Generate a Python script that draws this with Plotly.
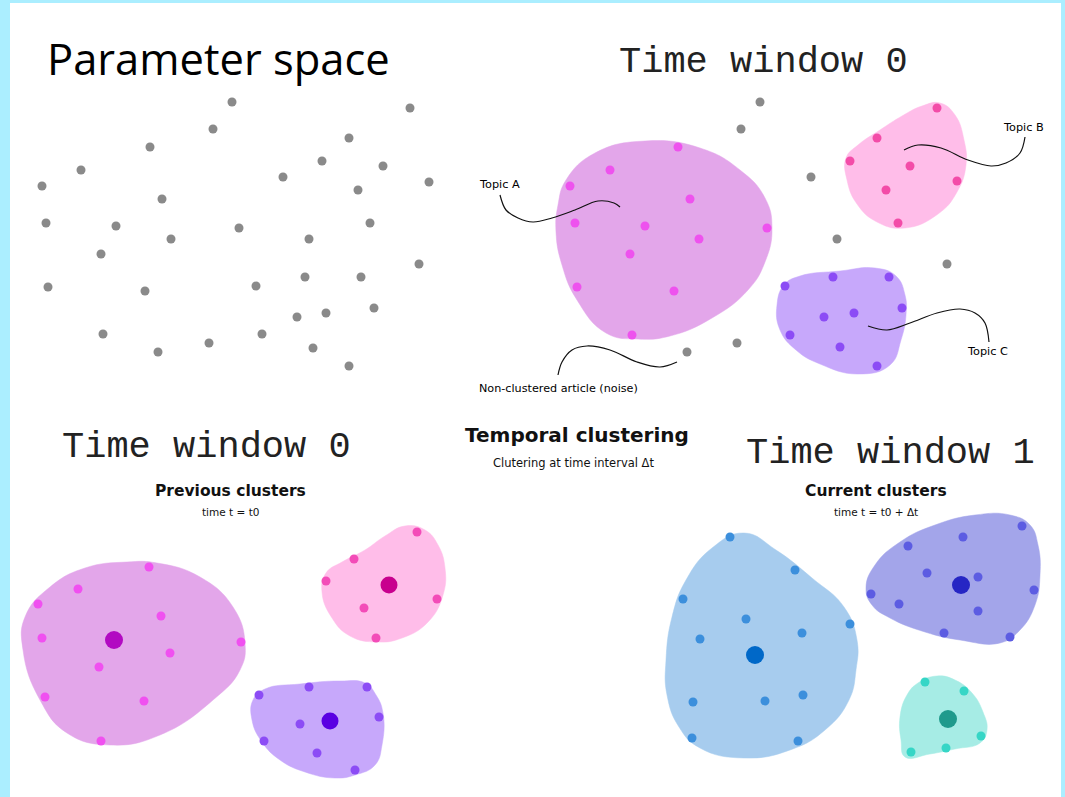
import plotly.graph_objects as go

# ---------------- data (pixel coordinates of the illustration) ----------------
param_x = [232, 410, 213, 349, 150, 322, 383, 81, 283, 42, 429, 358, 162, 46, 116, 239, 370, 171,
           309, 101, 419, 305, 361, 48, 145, 256, 374, 297, 326, 103, 262, 209, 158, 313, 349]
param_y = [102, 108, 129, 138, 147, 161, 166, 170, 177, 186, 182, 190, 199, 223, 226, 228, 223, 239,
           239, 254, 264, 277, 277, 287, 291, 286, 308, 317, 313, 334, 334, 343, 352, 348, 366]

noise_x = [760, 741, 811, 837, 947, 737, 687]
noise_y = [102, 129, 177, 239, 264, 343, 352]

topicA_x = [678, 610, 570, 690, 575, 645, 767, 699, 630, 577, 674, 632]
topicA_y = [147, 170, 186, 199, 223, 226, 228, 239, 254, 287, 291, 335]
topicA_outline_x = [645, 700, 740, 765, 772, 765, 748, 712, 670, 638, 606, 577, 562, 556, 558, 566, 595]
topicA_outline_y = [141, 148, 170, 198, 228, 262, 290, 318, 336, 339, 333, 300, 265, 232, 205, 180, 153]

topicB_x = [937, 877, 850, 910, 957, 886, 898]
topicB_y = [108, 138, 161, 166, 181, 190, 223]
topicB_outline_x = [922, 940, 955, 964, 966, 957, 938, 905, 877, 857, 847, 846, 858, 880, 902]
topicB_outline_y = [106, 103, 115, 140, 165, 192, 214, 228, 222, 204, 180, 158, 145, 130, 116]

topicC_x = [785, 833, 889, 902, 824, 854, 790, 840, 877]
topicC_y = [286, 277, 277, 308, 317, 313, 335, 347, 366]
topicC_outline_x = [840, 875, 896, 905, 906, 901, 890, 858, 820, 796, 780, 777, 784, 800]
topicC_outline_y = [271, 268, 276, 295, 315, 340, 365, 374, 364, 350, 330, 305, 285, 276]

curveA_x = [500, 506, 518, 533, 552, 575, 598, 614, 620]
curveA_y = [195, 210, 218, 222, 218, 210, 201, 203, 207]
curveB_x = [1025, 1020, 1006, 991, 968, 941, 918, 904]
curveB_y = [137, 153, 163, 166, 160, 148, 145, 150]
curveC_x = [989, 985, 975, 960, 937, 910, 887, 868]
curveC_y = [342, 323, 313, 309, 313, 323, 330, 326]
curveN_x = [558, 562, 572, 587, 610, 637, 660, 677]
curveN_y = [375, 362, 350, 346, 350, 362, 367, 362]

prevA_x = [149, 78, 38, 161, 42, 241, 170, 99, 45, 144, 101]
prevA_y = [567, 589, 604, 616, 638, 642, 653, 667, 697, 701, 741]
prevA_center = (114, 640)
prevA_outline_x = [127, 157, 200, 233, 245, 240, 213, 160, 110, 67, 40, 23, 25, 50, 85]
prevA_outline_y = [562, 563, 577, 607, 643, 670, 700, 735, 745, 733, 700, 650, 617, 587, 568]

prevB_x = [417, 354, 326, 437, 364, 376]
prevB_y = [532, 559, 581, 599, 608, 638]
prevB_center = (389, 585)
prevB_outline_x = [405, 425, 438, 445, 443, 428, 402, 377, 350, 332, 322, 326, 342, 365, 385]
prevB_outline_y = [526, 530, 545, 568, 595, 622, 638, 642, 636, 618, 592, 573, 562, 550, 536]

prevC_x = [259, 309, 367, 379, 300, 264, 317, 355]
prevC_y = [695, 687, 687, 717, 724, 741, 753, 770]
prevC_center = (330, 721)
prevC_outline_x = [300, 340, 365, 376, 383, 382, 375, 355, 335, 305, 280, 262, 252, 253, 265]
prevC_outline_y = [684, 681, 683, 695, 713, 745, 765, 775, 778, 772, 760, 742, 720, 700, 689]

curBlue_x = [730, 795, 683, 746, 850, 700, 802, 693, 765, 803, 692, 798]
curBlue_y = [537, 570, 599, 619, 624, 639, 633, 702, 701, 695, 738, 741]
curBlue_center = (755, 655)
curBlue_outline_x = [744, 776, 812, 844, 857, 856, 849, 825, 790, 744, 700, 679, 667, 666, 672, 686, 712]
curBlue_outline_y = [533, 550, 578, 607, 640, 670, 700, 730, 750, 758, 748, 727, 695, 660, 617, 580, 548]

curViolet_x = [1022, 963, 908, 927, 978, 871, 1034, 899, 978, 944, 1010]
curViolet_y = [526, 537, 546, 573, 577, 594, 590, 604, 611, 633, 637]
curViolet_center = (961, 585)
curViolet_outline_x = [975, 1010, 1030, 1038, 1040, 1035, 1020, 1000, 960, 925, 890, 872, 866, 875, 900, 935]
curViolet_outline_y = [515, 515, 525, 545, 575, 605, 630, 643, 640, 632, 618, 605, 588, 565, 542, 525]

curTeal_x = [925, 964, 981, 946, 911]
curTeal_y = [682, 691, 736, 748, 752]
curTeal_center = (948, 719)
curTeal_outline_x = [937, 955, 972, 983, 987, 980, 955, 930, 905, 901, 900, 907, 918]
curTeal_outline_y = [676, 680, 693, 712, 730, 743, 749, 754, 757, 740, 717, 695, 683]

W, H = 1065, 797
fig = go.Figure()


def blob(ox, oy, fill):
    fig.add_trace(go.Scatter(x=ox + ox[:1], y=oy + oy[:1], mode="lines", fill="toself",
                             fillcolor=fill, line=dict(color=fill, width=0.5, shape="spline", smoothing=1.3),
                             hoverinfo="skip", showlegend=False))


def dots(x, y, color, size=9):
    fig.add_trace(go.Scatter(x=x, y=y, mode="markers", marker=dict(color=color, size=size, line=dict(width=0)),
                             hoverinfo="skip", showlegend=False))


def curve(x, y):
    fig.add_trace(go.Scatter(x=x, y=y, mode="lines", line=dict(color="#111111", width=1.2, shape="spline"),
                             hoverinfo="skip", showlegend=False))


# parameter space
dots(param_x, param_y, "#8a8a8a", 9)

# time window 0 (top)
blob(topicA_outline_x, topicA_outline_y, "#e3a6ea")
blob(topicB_outline_x, topicB_outline_y, "#ffbde9")
blob(topicC_outline_x, topicC_outline_y, "#c7a8fb")
dots(topicA_x, topicA_y, "#ee52ee", 9)
dots(topicB_x, topicB_y, "#f34ca8", 9)
dots(topicC_x, topicC_y, "#8c4cf5", 9)
dots(noise_x, noise_y, "#8a8a8a", 9)
for cx, cy in [(curveA_x, curveA_y), (curveB_x, curveB_y), (curveC_x, curveC_y), (curveN_x, curveN_y)]:
    curve(cx, cy)

# previous clusters
blob(prevA_outline_x, prevA_outline_y, "#e3a6ea")
blob(prevB_outline_x, prevB_outline_y, "#ffbde9")
blob(prevC_outline_x, prevC_outline_y, "#c7a8fb")
dots(prevA_x, prevA_y, "#f050f0", 9)
dots(prevB_x, prevB_y, "#f34cb8", 9)
dots(prevC_x, prevC_y, "#8c4cf5", 9)
dots([prevA_center[0]], [prevA_center[1]], "#b20ac2", 18)
dots([prevB_center[0]], [prevB_center[1]], "#c8008e", 17)
dots([prevC_center[0]], [prevC_center[1]], "#5a00e2", 17)

# current clusters
blob(curBlue_outline_x, curBlue_outline_y, "#a7ccee")
blob(curViolet_outline_x, curViolet_outline_y, "#a3a5ea")
blob(curTeal_outline_x, curTeal_outline_y, "#a6ece5")
dots(curBlue_x, curBlue_y, "#3c8fdc", 9)
dots(curViolet_x, curViolet_y, "#5c5ce2", 9)
dots(curTeal_x, curTeal_y, "#36d6c6", 9)
dots([curBlue_center[0]], [curBlue_center[1]], "#0068c8", 18)
dots([curViolet_center[0]], [curViolet_center[1]], "#2626c4", 18)
dots([curTeal_center[0]], [curTeal_center[1]], "#1f9a8c", 18)

ann = []
SANS = "DejaVu Sans"


def text(t, x, y, size, family=SANS, color="#111111", xanchor="center", bold=False):
    ann.append(dict(text=(f"<b>{t}</b>" if bold else t), x=x, y=y, xref="x", yref="y", showarrow=False,
                    xanchor=xanchor, yanchor="middle", font=dict(size=size, family=family, color=color)))


text("Parameter space", 45, 58, 43.5, family="Open Sans", color="#000000", xanchor="left")
text("Time window 0", 763, 62, 37, family="Liberation Mono", color="#222222")
text("Time window 0", 206, 447, 37, family="Liberation Mono", color="#222222")
text("Time window 1", 890, 453, 37, family="Liberation Mono", color="#222222")
text("Temporal clustering", 577, 435, 20, bold=True)
text("Clutering at time interval Δt", 573, 463, 11.5)
text("Previous clusters", 230, 491, 15.5, bold=True)
text("time t = t0", 230, 512, 10.5)
text("Current clusters", 876, 491, 15.5, bold=True)
text("time t = t0 + Δt", 876, 512, 10.5)
text("Topic A", 499, 184, 11.3, color="#000000")
text("Topic B", 1023, 127, 11.3, color="#000000")
text("Topic C", 987, 351, 11.3, color="#000000")
text("Non-clustered article (noise)", 558, 388, 11.2, color="#000000")

fig.update_layout(
    width=W, height=H, margin=dict(l=0, r=0, t=0, b=0),
    paper_bgcolor="#abeeff", plot_bgcolor="rgba(0,0,0,0)",
    xaxis=dict(range=[0, W], visible=False, fixedrange=True),
    yaxis=dict(range=[H, 0], visible=False, fixedrange=True),
    shapes=[dict(type="rect", xref="x", yref="y", x0=10, x1=1061, y0=3, y1=H + 5,
                 fillcolor="#ffffff", line=dict(width=0), layer="below")],
    annotations=ann,
    showlegend=False,
)

fig.write_html("out.html", config={"displayModeBar": False},
               post_script="document.body.style.margin='0';document.body.style.overflow='hidden';")
